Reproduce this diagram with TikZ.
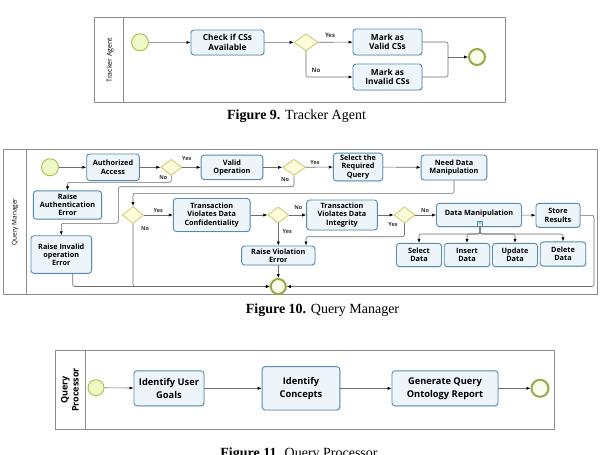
\documentclass[tikz,border=0pt]{standalone}
\usepackage{fontspec}
\setmainfont{Liberation Serif}
\setsansfont{Open Sans}
\usetikzlibrary{shapes.geometric,arrows.meta,shadows,calc}
\definecolor{taskline}{RGB}{84,141,175}
\definecolor{taskfill}{RGB}{238,245,250}
\definecolor{stline}{RGB}{160,196,70}
\definecolor{stfill}{RGB}{240,248,200}
\definecolor{endline}{RGB}{150,170,70}
\definecolor{endfill}{RGB}{250,252,238}
\definecolor{gwline}{RGB}{200,200,110}
\definecolor{gwfill}{RGB}{255,253,218}
\definecolor{flowc}{RGB}{110,110,110}
\definecolor{lanec}{RGB}{140,140,140}
\begin{document}
\begin{tikzpicture}[x=1pt,y=-1pt,
  wh/.style 2 args={minimum width=#1pt,minimum height=#2pt},
  task/.style={draw=taskline,fill=taskfill,line width=0.9pt,rounded corners=3pt,align=center,inner sep=1pt,
    font=\sffamily\bfseries\fontsize{7.3}{8.2}\selectfont,
    drop shadow={shadow xshift=0.8pt,shadow yshift=-0.8pt,opacity=0.18}},
  tnine/.style={task,font=\sffamily\bfseries\fontsize{8.3}{9.3}\selectfont},
  televen/.style={task,font=\sffamily\bfseries\fontsize{9.3}{13}\selectfont},
  gw/.style={diamond,draw=gwline,fill=gwfill,line width=0.8pt,inner sep=0pt},
  startev/.style={circle,draw=stline,fill=stfill,line width=0.9pt,minimum size=17pt,inner sep=0pt},
  endev/.style={circle,draw=endline,fill=endfill,line width=2pt,minimum size=15pt,inner sep=0pt},
  flow/.style={draw=flowc,line width=0.6pt,rounded corners=2pt,-{Latex[length=4pt,width=3.2pt,color=black]}},
  plainflow/.style={draw=flowc,line width=0.6pt,rounded corners=2pt},
  lbl/.style={font=\sffamily\bfseries\fontsize{5.5}{6}\selectfont,text=black!80,inner sep=0pt},
  lane/.style={draw=lanec,line width=0.8pt},
  lanetitle/.style={rotate=90,font=\sffamily\fontsize{6.5}{7}\selectfont,inner sep=0pt},
  caption/.style={font=\fontsize{14}{16}\selectfont,inner sep=0pt}]
\fill[white] (0,0) rectangle (600,455);
\useasboundingbox (0,0) rectangle (600,455);
\clip (0,0) rectangle (600,455);

% ---------------- Figure 9 ----------------
\draw[lane] (94,17.7) rectangle (505,102);
\draw[lane] (123.5,17.7) -- (123.5,102);
\node[lanetitle,font=\sffamily\fontsize{7}{8}\selectfont] (t9) at (110,60) {Tracker Agent};
\node[startev] (s9) at (140,42.3) {};
\node[tnine,wh={73}{25}] (check) at (227.5,42.5) {Check if CSs\\Available};
\node[gw,wh={24}{17}] (g9) at (306,42.3) {};
\node[tnine,wh={69}{26}] (valid) at (387.5,42) {Mark as\\Valid CSs};
\node[tnine,wh={69}{26}] (invalid) at (387.5,77) {Mark as\\Invalid CSs};
\node[endev,minimum size=16pt] (e9) at (477,57) {};
\coordinate (m9) at (448,57);
\draw[flow] (s9) -- (check);
\draw[flow] (check) -- (g9);
\draw[flow] (g9) -- (valid);
\draw[flow] (g9.south) |- (invalid.west);
\draw[plainflow] (valid.east) -| (m9);
\draw[plainflow] (invalid.east) -| (m9);
\draw[flow] (m9) -- (e9);
\node[lbl,font=\sffamily\bfseries\fontsize{6}{7}\selectfont] (y9) at (330,35) {Yes};
\node[lbl,font=\sffamily\bfseries\fontsize{6}{7}\selectfont] (n9) at (316,70) {No};
\node[caption] (cap9) at (296.5,116.5) {\textbf{Figure 9.} Tracker Agent};

% ---------------- Figure 10 ----------------
\draw[lane] (3.3,149) rectangle (597,294);
\draw[lane] (26.7,149) -- (26.7,294);
\node[lanetitle] (t10) at (15,222) {Query Manager};
\node[startev] (s10) at (50,167.3) {};
\node[task,wh={52.6}{26.7}] (auth) at (113,167.3) {Authorized\\Access};
\node[gw,wh={21}{16}] (g1) at (171.3,167.3) {};
\node[task,wh={61.7}{24.4}] (validop) at (232,167.3) {Valid\\Operation};
\node[gw,wh={23}{16}] (g2) at (294,167.3) {};
\node[task,wh={49.4}{27.7}] (sel) at (358,167) {Select the\\Required\\Query};
\node[task,wh={65.7}{25}] (need) at (454,167.5) {Need Data\\Manipulation};
\node[task,wh={68.3}{28.3}] (rae) at (67.5,205) {Raise\\Authentication\\Error};
\node[task,wh={60.7}{37.6}] (rio) at (61.3,254.5) {Raise Invalid\\operation\\Error};
\node[gw,wh={21}{17}] (g3) at (133,215) {};
\node[task,wh={76.7}{33}] (tvdc) at (211.7,215) {Transaction\\Violates Data\\Confidentiality};
\node[gw,wh={21}{16}] (g4) at (278.3,215) {};
\node[task,wh={70.7}{30}] (tvdi) at (342,215) {Transaction\\Violates Data\\Integrity};
\node[gw,wh={21}{16}] (g5) at (404.5,215) {};
\node[task,wh={85}{23.3},text depth=4pt] (dm) at (479,215) {Data Manipulation};
\node[draw=taskline,fill=taskfill,line width=0.7pt,minimum size=5.5pt,inner sep=0pt,
      font=\sffamily\bfseries\fontsize{6}{6}\selectfont,text=taskline] (dmplus) at (480,223.6) {+};
\node[task,wh={44}{24}] (store) at (558,215.3) {Store\\Results};
\node[task,wh={73.3}{19}] (rve) at (278.3,255.5) {Raise Violation\\Error};
\node[endev,minimum size=15pt] (e10) at (278.3,286.5) {};
\node[task,wh={45}{23.3}] (seld) at (419,255) {Select\\Data};
\node[task,wh={45.5}{23.3}] (insd) at (467,255) {Insert\\Data};
\node[task,wh={45}{23.3}] (upd) at (515,255) {Update\\Data};
\node[task,wh={45.5}{24.3}] (deld) at (563,254) {Delete\\Data};

\draw[flow] (s10) -- (auth);
\draw[flow] (auth) -- (g1);
\draw[flow] (g1) -- (validop);
\draw[flow] (g1.south) |- (120,182.3) -| (rae.north);
\draw[flow] (validop) -- (g2);
\draw[flow] (g2) -- (sel);
\draw[flow] (g2.south) |- (118.3,186.7) -- (118.3,223.3) -| (rio.north);
\draw[flow] (sel) -- (need);
\draw[flow] (need.south) |- (133,193.3) -- (g3.north);
\draw[flow] (g3) -- (tvdc);
\draw[flow] (g3.south) |- (e10.west);
\draw[flow] ([xshift=11.4pt]rio.south) |- (e10.west);
\draw[flow] (tvdc) -- (g4);
\draw[flow] (g4) -- (tvdi);
\draw[flow] (g4.south) -- (rve.north);
\draw[flow] (rve.south) -- (e10.north);
\draw[flow] (tvdi) -- (g5);
\draw[flow] (g5) -- (dm);
\draw[flow] (g5.south) |- (360,236.7) -| ([xshift=27.7pt]rve.north);
\draw[flow] (dm) -- (store);
\draw[flow] (store.east) -- (594,215.3) |- (e10.east);
\draw[flow] (dmplus.south) |- (450,234) -| (seld.north);
\draw[flow] (dmplus.south) |- (470,234) -| (insd.north);
\draw[flow] (dmplus.south) |- (500,234) -| (upd.north);
\draw[flow] (dmplus.south) |- (540,234) -| (deld.north);

\node[lbl] (y1) at (186.7,159) {Yes};
\node[lbl] (n1) at (163.3,177.3) {No};
\node[lbl] (y2) at (315,162.3) {Yes};
\node[lbl] (n2) at (285,179.3) {No};
\node[lbl] (y3) at (158.3,210.7) {Yes};
\node[lbl] (n3) at (145,228.3) {No};
\node[lbl] (n4) at (298.3,207.3) {No};
\node[lbl] (y4) at (287.3,231.7) {Yes};
\node[lbl] (y5) at (393,224.5) {Yes};
\node[lbl] (n5) at (425,210.7) {No};
\node[caption] (cap10) at (322.5,310) {\textbf{Figure 10.} Query Manager};

% ---------------- Figure 11 ----------------
\draw[lane] (55,350.5) rectangle (554,429);
\draw[lane] (85,350.5) -- (85,429);
\node[rotate=90,align=center,font=\sffamily\bfseries\fontsize{9}{11}\selectfont,inner sep=0pt] (t11) at (70,390) {Query\\Processor};
\node[startev,minimum size=16pt] (s11) at (96,387.7) {};
\node[televen,wh={70}{35}] (iug) at (169,388.3) {Identify User\\Goals};
\node[televen,wh={77.7}{43.3}] (ic) at (301,388.3) {Identify\\Concepts};
\node[televen,wh={106}{35}] (gqo) at (445,388.3) {Generate Query\\Ontology Report};
\node[endev,minimum size=17pt] (e11) at (540,388.3) {};
\draw[flow] (s11) -- (iug);
\draw[flow] (iug) -- (ic);
\draw[flow] (ic) -- (gqo);
\draw[flow] (gqo) -- (e11);
\node[caption,anchor=base] (cap11) at (299,457.5) {\textbf{Figure 11.} Query Processor};
\end{tikzpicture}
\end{document}
